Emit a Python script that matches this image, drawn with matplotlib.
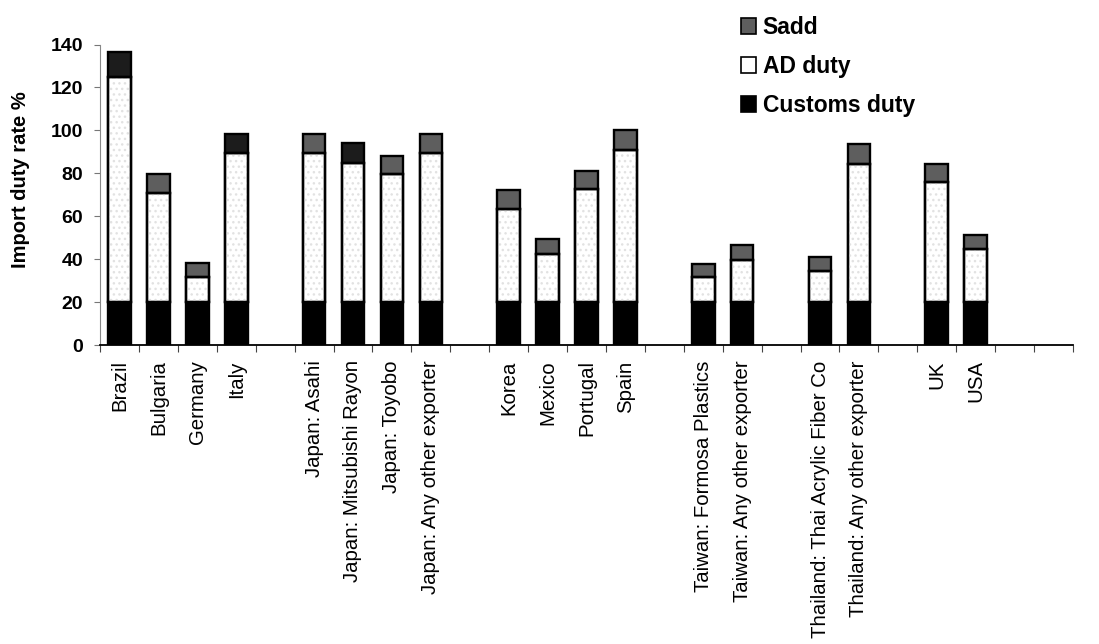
import numpy as np
import matplotlib
matplotlib.use("Agg")
import matplotlib.pyplot as plt
from matplotlib.patches import Patch

plt.rcParams['font.family'] = ['Liberation Sans', 'DejaVu Sans']

# Exporters (empty strings are spacer slots between country groups)
categories = [
    "Brazil", "Bulgaria", "Germany", "Italy", "",
    "Japan: Asahi", "Japan: Mitsubishi Rayon", "Japan: Toyobo",
    "Japan: Any other exporter", "",
    "Korea", "Mexico", "Portugal", "Spain", "",
    "Taiwan: Formosa Plastics", "Taiwan: Any other exporter", "",
    "Thailand: Thai Acrylic Fiber Co", "Thailand: Any other exporter", "",
    "UK", "USA", "", "",
]

# Duty components in percent (None = spacer)
customs_duty = [20, 20, 20, 20, None,
                20, 20, 20, 20, None,
                20, 20, 20, 20, None,
                20, 20, None,
                20, 20, None,
                20, 20, None, None]
ad_duty = [105, 51, 11.5, 69.5, None,
           69.5, 65, 59.5, 69.5, None,
           43.5, 22.5, 52.5, 71, None,
           11.5, 19.5, None,
           14.5, 64.5, None,
           56, 24.5, None, None]
sadd = [11.5, 8.5, 6.5, 9, None,
        9, 9.2, 8.5, 9, None,
        8.5, 7, 8.5, 9.3, None,
        6.3, 7, None,
        6.5, 9, None,
        8.5, 6.8, None, None]

ylim_max = 140
y_ticks = [0, 20, 40, 60, 80, 100, 120, 140]

W, H = 1099, 644
fig = plt.figure(figsize=(W / 100, H / 100), dpi=100)
ax = fig.add_axes([100 / W, 1 - 345 / H, (1073 - 100) / W, (345 - 44.5) / H])

idx = [i for i, v in enumerate(customs_duty) if v is not None]
x = np.array(idx, dtype=float)
cd = np.array([customs_duty[i] for i in idx], dtype=float)
ad = np.array([ad_duty[i] for i in idx], dtype=float)
sd = np.array([sadd[i] for i in idx], dtype=float)

bw = 0.58
lw = 1.7
c_customs = "#000000"
c_ad = "#ffffff"
c_sadd = "#5e5e5e"
# a few Sadd caps printed in a much darker tone
dark_caps = {"Brazil", "Italy", "Japan: Mitsubishi Rayon"}
sadd_colors = ["#1c1c1c" if categories[i] in dark_caps else c_sadd
               for i in idx]

ax.bar(x, cd, bw, color=c_customs, edgecolor="black", linewidth=lw, zorder=3)
ax.bar(x, ad, bw, bottom=cd, color=c_ad, edgecolor="black", linewidth=lw,
       zorder=3)
ax.bar(x, ad, bw, bottom=cd, color="none", edgecolor="#e2e2e2", linewidth=0,
       hatch="...", zorder=3)
ax.bar(x, sd, bw, bottom=cd + ad, color=sadd_colors, edgecolor="black",
       linewidth=lw, zorder=3)
# outline redrawn on top so the hatch never covers it
ax.bar(x, ad, bw, bottom=cd, color="none", edgecolor="black", linewidth=lw,
       zorder=4)

n = len(categories)
ax.set_xlim(-0.5, n - 0.5)
ax.set_ylim(0, ylim_max)

ax.set_xticks(np.arange(n))
ax.set_xticklabels(categories, rotation=90, fontsize=14.7)
ax.set_xticks(np.arange(n + 1) - 0.5, minor=True)
ax.tick_params(axis="x", which="major", length=0, pad=11)
ax.tick_params(axis="x", which="minor", length=5, width=0.8,
               color="#444444", direction="out")

ax.set_yticks(y_ticks)
ax.set_yticklabels([str(t) for t in y_ticks], fontsize=14, fontweight="bold")
ax.tick_params(axis="y", length=4, width=0.8, color="#777777", pad=8)

for s in ("top", "right"):
    ax.spines[s].set_visible(False)
ax.spines["left"].set_color("#888888")
ax.spines["left"].set_linewidth(0.8)
ax.spines["bottom"].set_color("black")
ax.spines["bottom"].set_linewidth(1.3)
ax.spines["bottom"].set_zorder(5)

ax.set_ylabel("Import duty rate %", fontsize=14.5, fontweight="bold")
ax.yaxis.set_label_coords(-0.072, 0.55)

handles = [
    Patch(facecolor=c_sadd, edgecolor="black", linewidth=1.2, label="Sadd"),
    Patch(facecolor=c_ad, edgecolor="black", linewidth=1.2, label="AD duty"),
    Patch(facecolor=c_customs, edgecolor="black", linewidth=1.2,
          label="Customs duty"),
]
fig.legend(handles=handles, loc="upper left",
           bbox_to_anchor=(741 / W, 1 - 16 / H), frameon=False,
           prop={"size": 16.5, "weight": "bold"},
           handlelength=0.65, handleheight=0.65, handletextpad=0.3,
           labelspacing=0.7, borderpad=0, borderaxespad=0)

fig.savefig("out.png", dpi=100)
